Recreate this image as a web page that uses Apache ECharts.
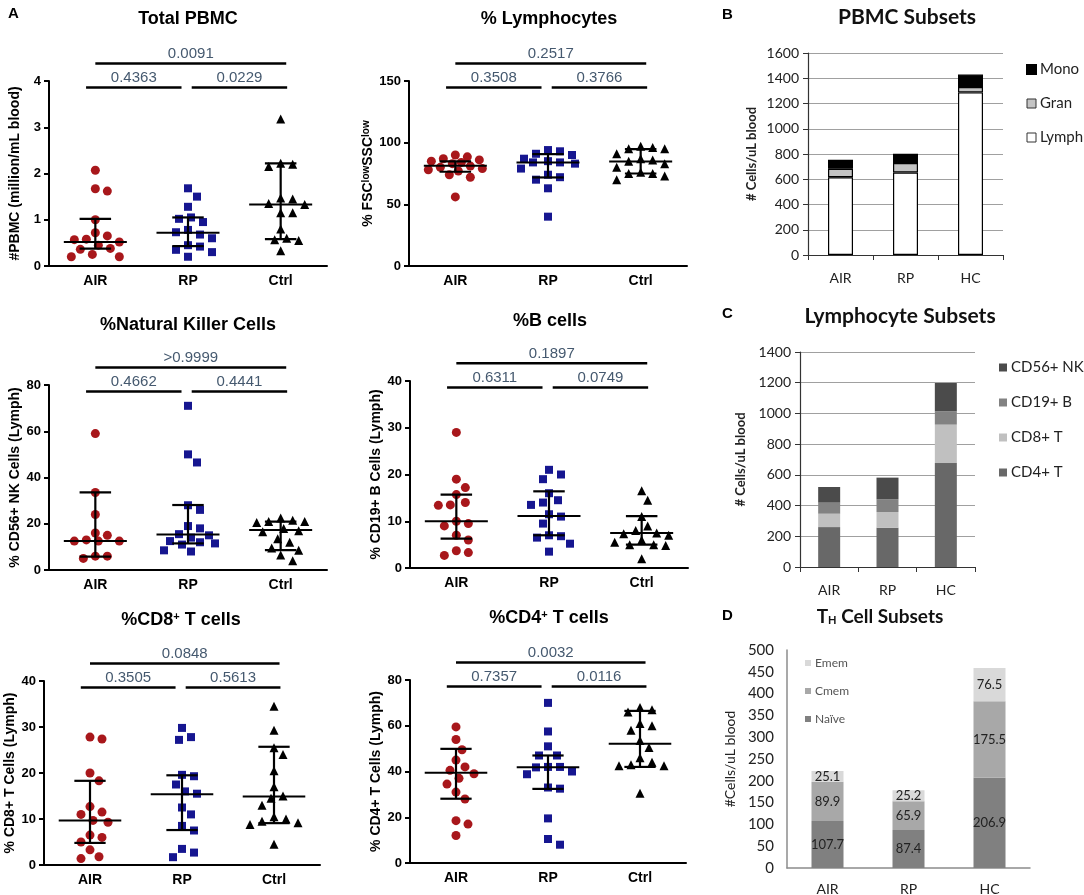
<!DOCTYPE html>
<html>
<head>
<meta charset="utf-8">
<script src="https://cdn.jsdelivr.net/npm/echarts@6/dist/echarts.min.js"></script>
<style>
  html, body { margin: 0; padding: 0; background: #fff; }
  #chart { width: 1084px; height: 895px; }
</style>
</head>
<body>
<div id="chart"></div>
<script>
// ---- data ----
const groups = ['AIR', 'RP', 'Ctrl'];

// Total PBMC (million/mL)
const pbmcAIR = [2.07, 1.67, 1.62, 1.0, 0.72, 0.65, 0.58, 0.57, 0.52, 0.45, 0.38, 0.36, 0.25, 0.2, 0.2];
const pbmcRP = [1.68, 1.5, 1.28, 1.05, 1.02, 0.95, 0.78, 0.73, 0.68, 0.6, 0.45, 0.42, 0.35, 0.3, 0.2];
const pbmcCtrl = [3.18, 2.22, 2.2, 2.15, 1.47, 1.45, 1.35, 1.33, 1.15, 1.15, 0.8, 0.6, 0.57, 0.55, 0.33];
const pbmcStats = [[0.52, 0.375, 1.02], [0.72, 0.43, 1.05], [1.33, 0.58, 2.22]]; // median, q1, q3
const pbmcP = ['0.4363', '0.0229', '0.0091']; // AIR-RP, RP-Ctrl, AIR-Ctrl

// % Lymphocytes
const lymAIR = [90, 88.5, 87, 86, 85, 84, 83, 81, 80, 79, 78, 77, 74, 72, 56];
const lymRP = [94, 93, 91, 90, 87, 85, 84, 84, 83, 79, 74, 72, 70, 63, 40];
const lymCtrl = [97, 96, 95, 95, 91, 87, 86, 85, 83, 80, 76, 75, 75, 73, 70];
const lymStats = [[81.2, 76.4, 84.8], [84, 71.8, 90.7], [84.8, 75, 94.8]];
const lymP = ['0.3508', '0.3766', '0.2517'];

// % NK cells
const nkAIR = [59, 33.5, 24, 16, 15, 13, 12.5, 12.5, 12.5, 6, 6, 5];
const nkRP = [71, 50, 46.5, 28, 26, 19, 18, 15.5, 15, 14, 12.5, 12, 11.5, 11, 8.5, 8];
const nkCtrl = [22.5, 21.5, 21, 21, 20.5, 18, 17, 16.5, 13.5, 12, 9.5, 8.5, 6.5, 4];
const nkStats = [[12.5, 5.8, 33.6], [15.4, 11.5, 28.1], [17.3, 8.6, 20.9]];
const nkP = ['0.4662', '0.4441', '>0.9999'];

// % B cells
const bAIR = [29, 19, 17.2, 15.7, 14, 13.5, 13.4, 10, 9.5, 9, 7, 6, 3.7, 3.3, 2.7];
const bRP = [21, 20, 19, 16, 14.5, 14, 13.5, 11.5, 11, 9.5, 7, 6.8, 6.5, 5.2, 3.5];
const bCtrl = [16.5, 14.5, 11, 9, 8, 7.5, 7.3, 7, 6, 5.5, 5, 5, 4.8, 2];
const bStats = [[10, 6.3, 15.7], [11.1, 7, 16.4], [7.5, 5, 11.1]];
const bP = ['0.6311', '0.0749', '0.1897'];

// % CD8+ T cells
const cd8AIR = [27.8, 27.4, 20, 18.3, 12.7, 11.5, 11, 9.7, 9.3, 6.5, 6, 5, 3.3, 1.8, 1.4];
const cd8RP = [29.8, 27.8, 27.2, 19.6, 19.3, 17.5, 16, 15.5, 12.5, 11, 8.5, 7.5, 3.5, 2.7, 1.7];
const cd8Ctrl = [34.5, 29.3, 25.5, 24, 20.5, 17, 15, 14.5, 13, 10.5, 10, 9.5, 9.2, 8.8, 4.5];
const cd8Stats = [[9.7, 4.8, 18.3], [15.4, 7.6, 19.5], [14.9, 9.1, 25.7]];
const cd8P = ['0.3505', '0.5613', '0.0848'];

// % CD4+ T cells
const cd4AIR = [59.5, 54, 49.5, 45, 42, 40.5, 39, 37, 34.5, 31, 28, 18.5, 17, 12];
const cd4RP = [70, 57.5, 51, 47, 47, 42, 42, 41.8, 40, 38.8, 33, 32.5, 19.5, 10.5, 8];
const cd4Ctrl = [68, 67, 66, 61, 60, 58, 53.5, 50.5, 46, 44, 43, 42.5, 42.5, 30.5];
const cd4Stats = [[39.4, 28.1, 49.9], [41.9, 32.4, 47], [52.1, 42, 66.5]];
const cd4P = ['0.7357', '0.0116', '0.0032'];

// stacked bars (cells/uL)
const barCats = ['AIR', 'RP', 'HC'];
const subLymph = [616, 653, 1288];
const subGran = [67, 75, 43];
const subMono = [71, 74, 98];

const lsCD4 = [260, 256, 677];
const lsCD8 = [87, 102, 250];
const lsCD19 = [72, 83, 87];
const lsNK = [102, 141, 184];

const thNaive = [107.7, 87.4, 206.9];
const thCmem = [89.9, 65.9, 175.5];
const thEmem = [25.1, 25.2, 76.5];

// ---- layout / style ----
const ARIAL = '"Liberation Sans", Arial, sans-serif';
const CAL = 'Lato, "Open Sans", sans-serif';
const SYM = ['circle', 'rect', 'triangle'];
const SIZE = [9, 8, 9];
const COL = ['#a8171b', '#161690', '#000'];
const P_COLOR = '#45596f';

const panels = [
  { title: 'Total PBMC', yName: '#PBMC (million/mL blood)', max: 4, interval: 1,
    vals: [pbmcAIR, pbmcRP, pbmcCtrl], stats: pbmcStats, p: pbmcP, box: [49, 81, 278, 185], tx: 188, ty: 10, gap: 27 },
  { title: '% Lymphocytes', yName: '% FSC{sup|low}SSC{sup|low}', max: 150, interval: 50,
    vals: [lymAIR, lymRP, lymCtrl], stats: lymStats, p: lymP, box: [409, 81, 278, 185], tx: 549, ty: 10, gap: 34 },
  { title: '%Natural Killer Cells', yName: '% CD56+ NK Cells (Lymph)', max: 80, interval: 20,
    vals: [nkAIR, nkRP, nkCtrl], stats: nkStats, p: nkP, box: [49, 385, 278, 185], tx: 188, ty: 316, gap: 27 },
  { title: '%B cells', yName: '% CD19+ B Cells (Lymph)', max: 40, interval: 10,
    vals: [bAIR, bRP, bCtrl], stats: bStats, p: bP, box: [410, 381, 278, 187], tx: 550, ty: 312, gap: 27 },
  { title: '%CD8{sup|+} T cells', yName: '% CD8+ T Cells (Lymph)', max: 40, interval: 10,
    vals: [cd8AIR, cd8RP, cd8Ctrl], stats: cd8Stats, p: cd8P, box: [44, 681, 276, 184], tx: 181, ty: 611, gap: 25 },
  { title: '%CD4{sup|+} T cells', yName: '% CD4+ T Cells (Lymph)', max: 80, interval: 20,
    vals: [cd4AIR, cd4RP, cd4Ctrl], stats: cd4Stats, p: cd4P, box: [410, 680, 276, 183], tx: 549, ty: 609, gap: 27 }
];

// bracket spans in category units, height as fraction of axis max, p index
const BRACKETS = [[-0.1, 0.93, 0.965, 0], [1.04, 2.07, 0.965, 1], [0.0, 2.06, 1.095, 2]];

// beeswarm limited to a band half-width; in crowded rows points may overlap
function swarmOffsets(values, max, h, bandW, d, halfW) {
  const sy = h / max;
  const order = values.map((v, i) => i).sort((a, b) => values[b] - values[a]);
  const placed = [];
  const offs = new Array(values.length);
  const step = 3;
  const cands = [0];
  for (let k = step; k <= halfW; k += step) { cands.push(k, -k); }
  for (const i of order) {
    const py = values[i] * sy;
    let best = 0, bestDist = -1;
    for (const c of cands) {
      let m = Infinity;
      for (const p of placed) { m = Math.min(m, Math.hypot(p.x - c, p.y - py)); }
      if (m >= d) { best = c; bestDist = m; break; }
      if (m > bestDist) { bestDist = m; best = c; }
    }
    placed.push({ x: best, y: py });
    offs[i] = best / bandW;
  }
  return offs;
}

function line(api, x0, y0, x1, y1, w) {
  const a = api.coord([x0, y0]);
  const b = api.coord([x1, y1]);
  return { type: 'line', shape: { x1: a[0], y1: a[1], x2: b[0], y2: b[1] }, style: { stroke: '#000', lineWidth: w } };
}

function statsRender(params, api) {
  const x = api.value(0), med = api.value(1), q1 = api.value(2), q3 = api.value(3);
  return {
    type: 'group',
    children: [
      line(api, x - 0.34, med, x + 0.34, med, 2),
      line(api, x - 0.17, q1, x + 0.17, q1, 2.2),
      line(api, x - 0.17, q3, x + 0.17, q3, 2.2),
      line(api, x, q1, x, q3, 2.2)
    ]
  };
}

function bracketRender(labels) {
  return function (params, api) {
    const y = api.value(2);
    const a = api.coord([api.value(0), y]);
    const b = api.coord([api.value(1), y]);
    return {
      type: 'group',
      children: [
        { type: 'line', shape: { x1: a[0], y1: a[1], x2: b[0], y2: b[1] }, style: { stroke: '#000', lineWidth: 2.5 } },
        { type: 'text', style: {
            text: labels[BRACKETS[params.dataIndex][3]], x: (a[0] + b[0]) / 2, y: a[1] - 2,
            align: 'center', verticalAlign: 'bottom', textAlign: 'center', textVerticalAlign: 'bottom',
            fill: P_COLOR, fontSize: 15, fontFamily: ARIAL } }
      ]
    };
  };
}

const grids = [], xAxes = [], yAxes = [], series = [];

panels.forEach((pn, i) => {
  grids.push({ left: pn.box[0], top: pn.box[1], width: pn.box[2], height: pn.box[3], containLabel: false, outerBoundsMode: 'none' });
  xAxes.push({
    type: 'category', gridIndex: i, data: groups, boundaryGap: true,
    axisLine: { onZero: false, lineStyle: { color: '#000', width: 2 } },
    axisTick: { alignWithLabel: true, length: 5, lineStyle: { color: '#000', width: 2 } },
    axisLabel: { fontFamily: ARIAL, fontWeight: 'bold', fontSize: 14, color: '#000', margin: 8 },
    splitLine: { show: false }
  });
  xAxes.push({ type: 'value', gridIndex: i, min: -0.5, max: 2.5, show: false });
  yAxes.push({
    type: 'value', gridIndex: i, min: 0, max: pn.max, interval: pn.interval,
    name: pn.yName, nameLocation: 'middle', nameGap: pn.gap, nameRotate: 90,
    nameTextStyle: { fontFamily: ARIAL, fontWeight: 'bold', fontSize: 14, color: '#000',
      rich: { sup: { fontFamily: ARIAL, fontWeight: 'bold', fontSize: 10, color: '#000', verticalAlign: 'top' } } },
    axisLine: { show: true, onZero: false, lineStyle: { color: '#000', width: 2 } },
    axisTick: { show: true, length: 5, lineStyle: { color: '#000', width: 2 } },
    axisLabel: { fontFamily: ARIAL, fontWeight: 'bold', fontSize: 13, color: '#000', margin: 8 },
    splitLine: { show: false }
  });
  const bandW = pn.box[2] / 3;
  pn.vals.forEach((vals, g) => {
    const offs = swarmOffsets(vals, pn.max, pn.box[3], bandW, 11, 27);
    series.push({
      type: 'scatter', name: 'p' + i + '-' + groups[g], xAxisIndex: 2 * i + 1, yAxisIndex: i,
      symbol: SYM[g], symbolSize: SIZE[g], itemStyle: { color: COL[g], opacity: 1 }, silent: true, z: 2,
      data: vals.map((v, k) => [g + offs[k], v])
    });
  });
  series.push({
    type: 'custom', xAxisIndex: 2 * i + 1, yAxisIndex: i, clip: false, silent: true, z: 3,
    data: pn.stats.map((s, g) => [g, s[0], s[1], s[2]]), renderItem: statsRender
  });
  series.push({
    type: 'custom', xAxisIndex: 2 * i + 1, yAxisIndex: i, clip: false, silent: true, z: 3,
    data: BRACKETS.map(b => [b[0], b[1], pn.max * b[2]]), renderItem: bracketRender(pn.p)
  });
});

// ---- stacked bar panels ----
const barPanels = [
  { box: [808, 53, 195, 202], max: 1600, interval: 200, grid: true, barWidth: 25, nameGap: 50,
    yName: '# Cells/uL blood', stack: [
      { name: 'Lymph', data: subLymph, color: '#fff', border: '#000' },
      { name: 'Gran', data: subGran, color: '#c4c4c4', border: '#000' },
      { name: 'Mono', data: subMono, color: '#000', border: '#000' }] },
  { box: [800, 352, 175, 215], max: 1400, interval: 200, grid: true, barWidth: 22, nameGap: 53,
    yName: '# Cells/uL blood', stack: [
      { name: 'CD4+ T', data: lsCD4, color: '#686868' },
      { name: 'CD8+ T', data: lsCD8, color: '#c0c0c0' },
      { name: 'CD19+ B', data: lsCD19, color: '#828282' },
      { name: 'CD56+ NK', data: lsNK, color: '#4b4b4b' }] },
  { box: [787, 650, 243, 218], max: 500, interval: 50, grid: false, barWidth: 32, nameGap: 50,
    yName: '#Cells/uL blood', labels: true, stack: [
      { name: 'Naïve', data: thNaive, color: '#808080' },
      { name: 'Cmem', data: thCmem, color: '#a8a8a8' },
      { name: 'Emem', data: thEmem, color: '#d9d9d9' }] }
];

barPanels.forEach((bp, j) => {
  const gi = panels.length + j;
  grids.push({ left: bp.box[0], top: bp.box[1], width: bp.box[2], height: bp.box[3], containLabel: false, outerBoundsMode: 'none' });
  xAxes.push({
    type: 'category', gridIndex: gi, data: barCats, boundaryGap: true,
    axisLine: { onZero: false, lineStyle: { color: bp.grid ? '#333' : '#8c8c8c', width: bp.grid ? 1.2 : 1.5 } },
    axisTick: { show: bp.grid, length: 5, interval: 0, lineStyle: { color: '#333' } },
    axisLabel: { fontFamily: CAL, fontSize: 14, color: '#222', margin: bp.grid ? 16 : 14 }
  });
  yAxes.push({
    type: 'value', gridIndex: gi, min: 0, max: bp.max, interval: bp.interval,
    name: bp.yName, nameLocation: 'middle', nameRotate: 90, nameGap: bp.nameGap,
    nameTextStyle: { fontFamily: CAL, fontWeight: bp.grid ? 'bold' : 'normal', fontSize: bp.grid ? 13 : 14, color: '#222' },
    axisLine: { show: true, onZero: false, lineStyle: { color: bp.grid ? '#333' : '#8c8c8c', width: bp.grid ? 1.2 : 1.5 } },
    axisTick: { show: bp.grid, length: 5, lineStyle: { color: '#333' } },
    axisLabel: { fontFamily: CAL, fontSize: bp.grid ? 14 : 15, color: '#222', margin: bp.grid ? 9 : 13,
      formatter: v => String(v) },
    splitLine: { show: bp.grid, lineStyle: { color: '#a0a0a0', width: 1.2 } }
  });
  bp.stack.forEach(s => {
    series.push({
      type: 'bar', name: s.name, stack: 'st' + j, xAxisIndex: 2 * panels.length + j, yAxisIndex: gi,
      barWidth: bp.barWidth, data: s.data, silent: true,
      itemStyle: { color: s.color, borderColor: s.border || s.color, borderWidth: s.border ? 1.2 : 0 },
      label: { show: !!bp.labels, position: 'inside', fontFamily: CAL, fontSize: 13, color: '#222' }
    });
  });
});

const legends = [
  { left: 1026, top: 62, itemWidth: 9, itemHeight: 9, itemGap: 19, fontSize: 15,
    data: [{ name: 'Mono' }, { name: 'Gran', itemStyle: { color: '#c4c4c4', borderColor: '#333', borderWidth: 1 } },
           { name: 'Lymph', itemStyle: { color: '#fff', borderColor: '#333', borderWidth: 1 } }] },
  { left: 999, top: 360, itemWidth: 8, itemHeight: 8, itemGap: 20, fontSize: 15,
    data: [{ name: 'CD56+ NK' }, { name: 'CD19+ B' }, { name: 'CD8+ T' }, { name: 'CD4+ T' }] },
  { left: 805, top: 657, itemWidth: 6, itemHeight: 6, itemGap: 16, fontSize: 12, color: '#555',
    data: [{ name: 'Emem' }, { name: 'Cmem' }, { name: 'Naïve' }] }
].map(l => ({
  orient: 'vertical', left: l.left, top: l.top, padding: 0, itemWidth: l.itemWidth, itemHeight: l.itemHeight,
  itemGap: l.itemGap, icon: 'rect', selectedMode: false, data: l.data,
  textStyle: { fontFamily: CAL, fontSize: l.fontSize, color: l.color || '#222', padding: [0, 0, 0, -1] }
}));

const graphics = [];
panels.forEach(pn => {
  graphics.push({ type: 'text', x: pn.tx, y: pn.ty, silent: true, style: {
    text: pn.title, fill: '#000', fontFamily: ARIAL, fontWeight: 'bold', fontSize: 18,
    align: 'center', textAlign: 'center', verticalAlign: 'top', textVerticalAlign: 'top',
    rich: { sup: { fontFamily: ARIAL, fontWeight: 'bold', fontSize: 11, fill: '#000', verticalAlign: 'top' } } } });
});
[['PBMC Subsets', 907, 7, 21], ['Lymphocyte Subsets', 900, 306, 21], ['T{sub|H} Cell Subsets', 880, 607, 19]].forEach(t => {
  graphics.push({ type: 'text', x: t[1], y: t[2], silent: true, style: {
    text: t[0], fill: '#111', fontFamily: CAL, fontWeight: 'bold', fontSize: t[3],
    align: 'center', textAlign: 'center', verticalAlign: 'top', textVerticalAlign: 'top',
    rich: { sub: { fontFamily: CAL, fontWeight: 'bold', fontSize: 11, fill: '#111', verticalAlign: 'bottom' } } } });
});
[['A', 8, 6], ['B', 722, 7], ['C', 722, 306], ['D', 722, 608]].forEach(t => {
  graphics.push({ type: 'text', x: t[1], y: t[2], silent: true, style: {
    text: t[0], fill: '#000', fontFamily: ARIAL, fontWeight: 'bold', fontSize: 15 } });
});

const chart = echarts.init(document.getElementById('chart'), null, { renderer: 'canvas' });
chart.setOption({
  backgroundColor: '#fff',
  animation: false,
  grid: grids,
  xAxis: xAxes,
  yAxis: yAxes,
  legend: legends,
  graphic: graphics,
  series: series
});
</script>
</body>
</html>
